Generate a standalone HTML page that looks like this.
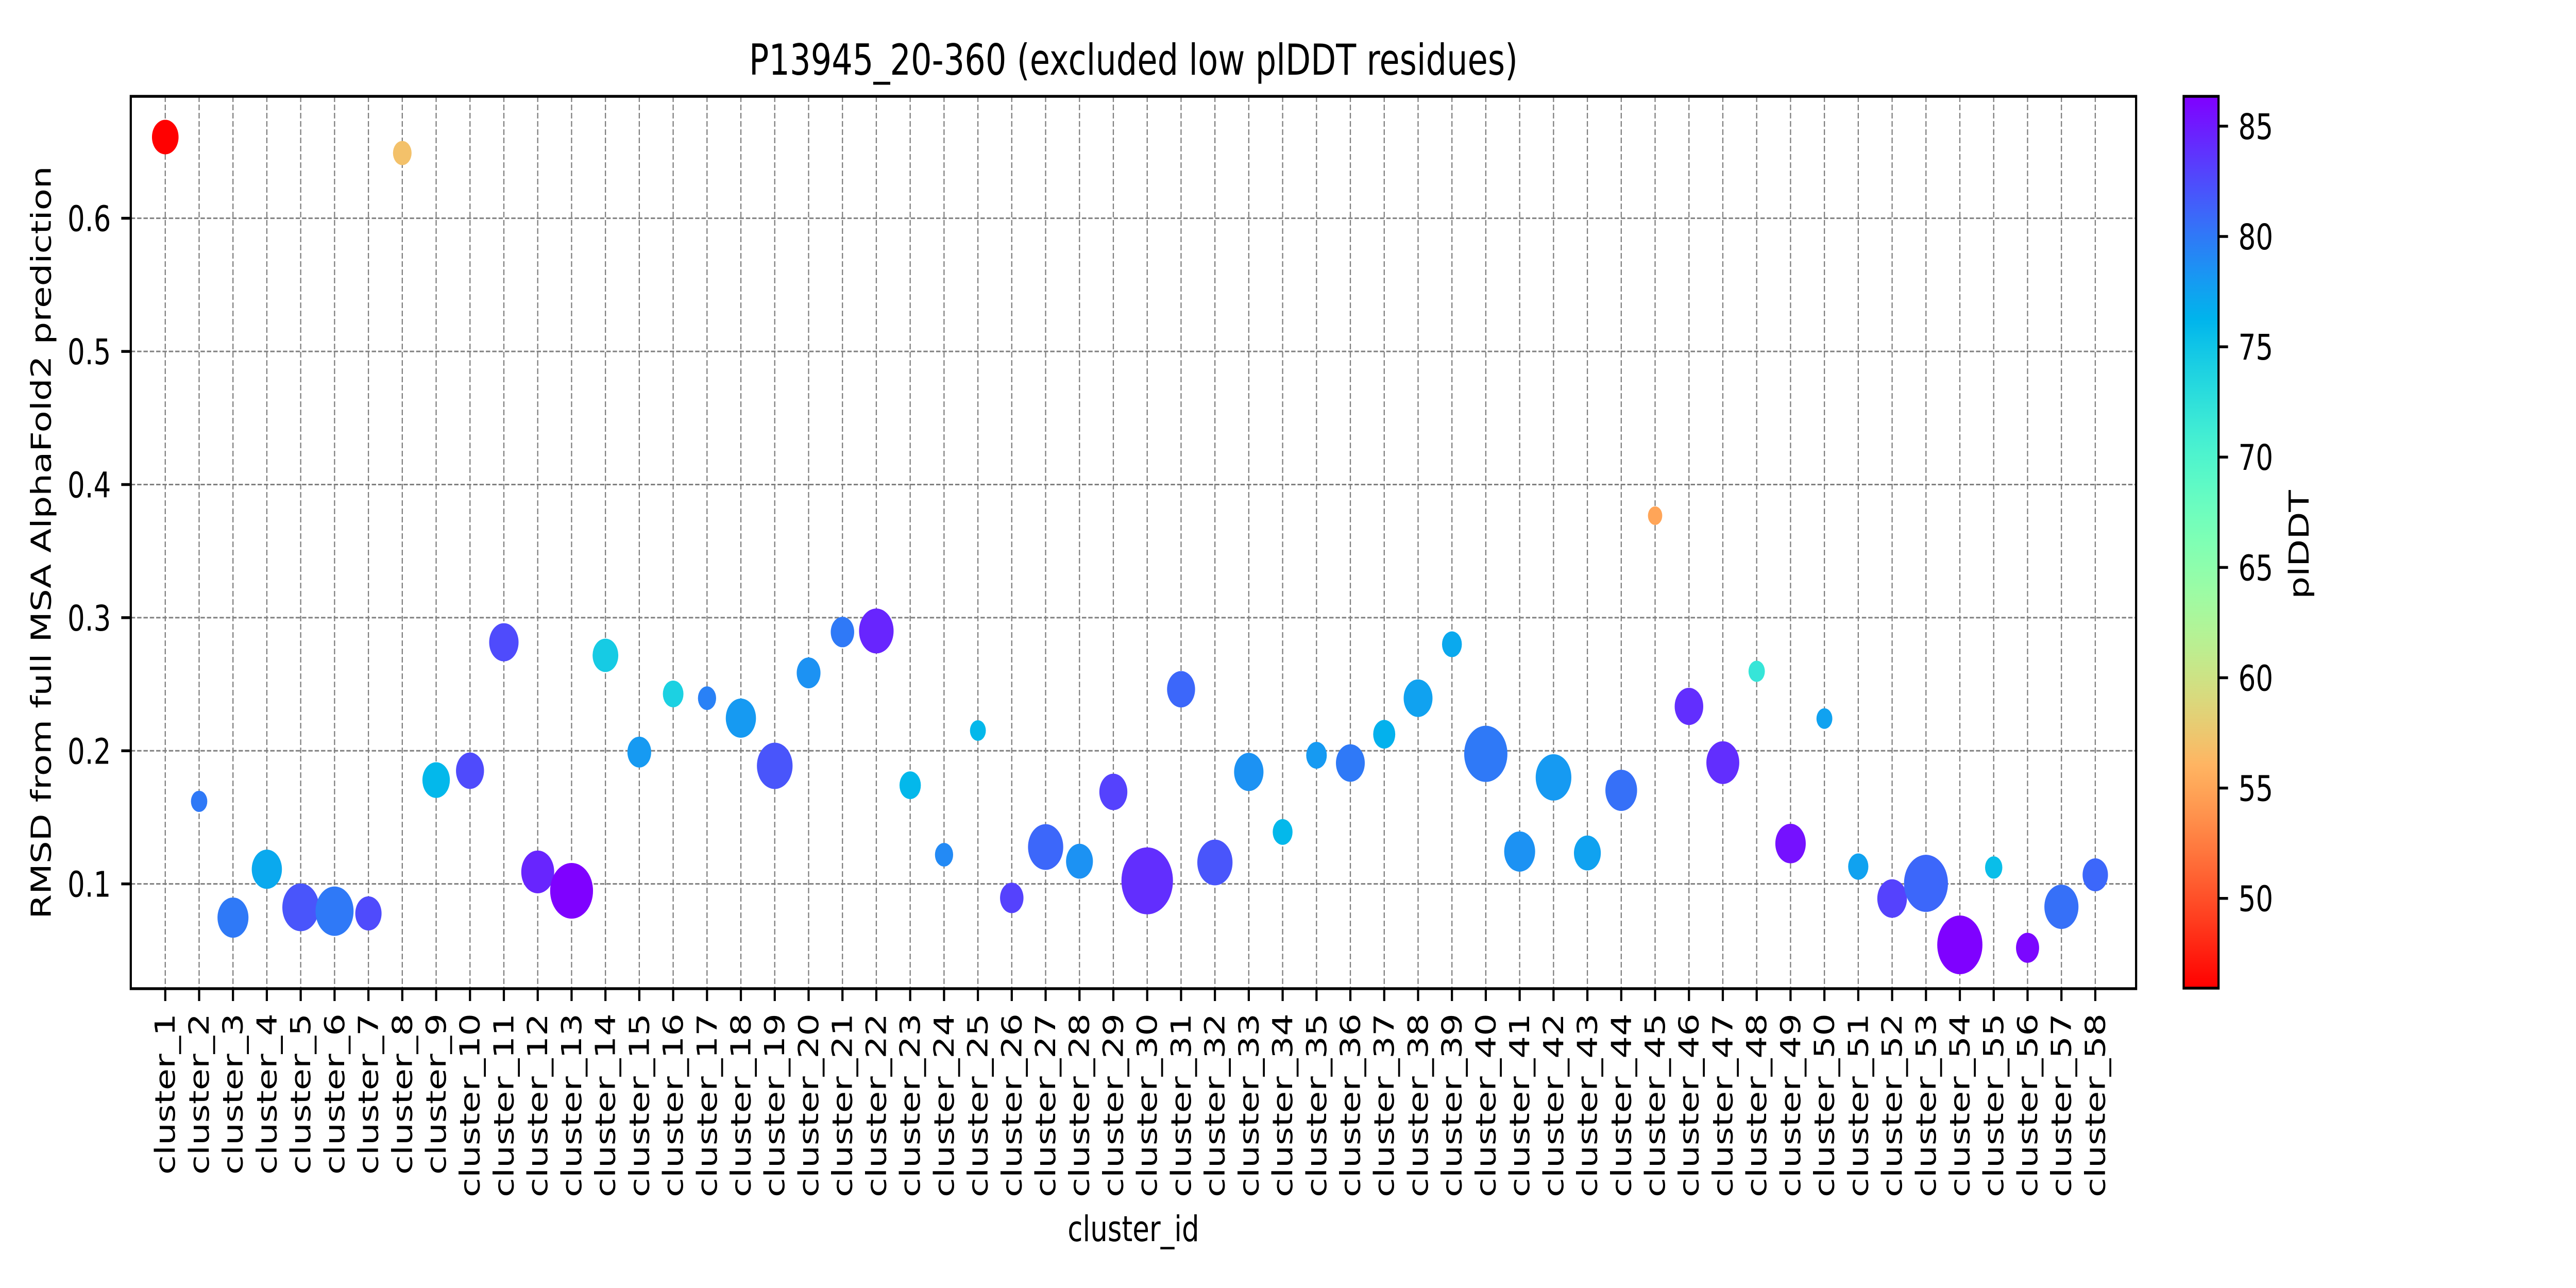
<!DOCTYPE html>
<html><head><meta charset="utf-8">
<style>
html,body{margin:0;padding:0;background:#fff;width:100vw;height:100vh;overflow:hidden;}
svg{display:block;position:fixed;left:0;top:0;width:100vw;height:100vh;font-family:"DejaVu Sans","Liberation Sans",sans-serif;}
</style></head><body>
<svg id="chart" xmlns="http://www.w3.org/2000/svg" viewBox="0 0 6500 2500" preserveAspectRatio="none">
<rect width="6500" height="2500" fill="#fff"/>
<text x="2860" y="145" font-size="83" text-anchor="middle">P13945_20-360 (excluded low plDDT residues)</text>
<g id="grid"></g>
<g id="points"></g>
<rect x="330" y="187" width="5060" height="1732" fill="none" stroke="#000" stroke-width="5.5"/>
<g id="axes"></g>
<text transform="translate(128,1053) rotate(-90)" font-size="69" text-anchor="middle">RMSD from full MSA AlphaFold2 prediction</text>
<text x="2860" y="2409" font-size="69" text-anchor="middle">cluster_id</text>
<defs><linearGradient id="cbgrad" x1="0" y1="1" x2="0" y2="0"></linearGradient></defs>
<rect x="5510" y="187" width="88" height="1731" fill="url(#cbgrad)" stroke="#000" stroke-width="5.5"/>
<g id="cbaxis"></g>
<text transform="translate(5825,1057) rotate(-90)" font-size="69" text-anchor="middle">plDDT</text>
</svg>
<script>
const categories = Array.from({length:58},(_, i)=>'cluster_'+(i+1));
const rmsd = [0.661,0.162,0.0747,0.111,0.0824,0.0795,0.0778,0.649,0.178,0.185,
0.2815,0.109,0.0948,0.2717,0.199,0.2427,0.2395,0.2245,0.1887,0.2585,
0.2892,0.290,0.1741,0.1219,0.2152,0.0895,0.1277,0.117,0.1691,0.1023,
0.2462,0.1161,0.1841,0.139,0.1966,0.1908,0.2124,0.2395,0.280,0.1977,
0.1243,0.180,0.1232,0.1703,0.3766,0.2333,0.1911,0.2597,0.1303,0.2242,
0.113,0.089,0.1004,0.0542,0.1123,0.052,0.0828,0.1068];
const plddt = [46,80,80,77,82,80,82.5,57,76,82.5,
82.5,84.5,86.3,74.5,78,74,79.5,78,82,78.5,
80,84.5,76,79,76,83,81,78.5,83,84,
81,82,78.5,76,78,80,76.5,77.5,77,80,
78.5,78,77.5,80.5,55,84,84,72,85.5,77.5,
77.5,83,81,86.3,75.5,86,80.5,81];
const sizes = [45,17,61,58,86,92,44,22,48,50,
55,69,117,42,36,27,21,58,81,36,
35,76,29,21,16,35,79,46,50,169,
50,79,55,25,27,53,31,53,25,119,
61,81,46,64,13,52,69,17,59,16,
26,56,123,130,19,34,74,41];
const yTicks = [0.1,0.2,0.3,0.4,0.5,0.6];
const yTickLabels = ['0.1','0.2','0.3','0.4','0.5','0.6'];
const cbTicks = [50,55,60,65,70,75,80,85];
const cbTickLabels = ['50','55','60','65','70','75','80','85'];

const NS='http://www.w3.org/2000/svg';
const L=330,R=5390,T=187,B=1919;
const yMin=0.0213,yMax=0.6916, cMin=45.93,cMax=86.35;
const xS=i=>417+i*(5287-417)/57;
const yS=v=>B-(v-yMin)/(yMax-yMin)*(B-T);
const cbS=v=>1918-(v-cMin)/(cMax-cMin)*(1918-187);
function rainbow(x){
  const r=Math.min(1,Math.abs(2*x-0.5)), g=Math.sin(Math.PI*x), b=Math.cos(Math.PI*x/2);
  return 'rgb('+[r,g,b].map(c=>Math.round(Math.max(0,Math.min(1,c))*255)).join(',')+')';
}
const col=v=>rainbow(1-Math.max(0,Math.min(1,(v-cMin)/(cMax-cMin))));
function mk(tag,attrs,parent){const e=document.createElementNS(NS,tag);for(const k in attrs)e.setAttribute(k,attrs[k]);parent.appendChild(e);return e;}
const grid=document.getElementById('grid'),pts=document.getElementById('points'),axes=document.getElementById('axes'),cba=document.getElementById('cbaxis');
categories.forEach((c,i)=>{
  const x=xS(i);
  const gl=mk('line',{x1:x,x2:x,y1:T,y2:B,stroke:'#808080','stroke-width':3,'stroke-dasharray':'11 5'},grid);
  
  
  const tk=mk('line',{x1:x,x2:x,y1:B,y2:B+24,stroke:'#000','stroke-width':5.5},axes);
  
  
  const t=mk('text',{transform:'translate('+(x+24)+',1967) rotate(-90)','font-size':69,'text-anchor':'end'},axes);
  t.textContent=c;
  
  
});
yTicks.forEach((v,i)=>{
  const y=yS(v);
  const gl=mk('line',{x1:L,x2:R,y1:y,y2:y,stroke:'#808080','stroke-width':3,'stroke-dasharray':'11 5'},grid);
  
  
  const tk=mk('line',{x1:L-24,x2:L,y1:y,y2:y,stroke:'#000','stroke-width':5.5},axes);
  
  
  const t=mk('text',{x:280,y:y+25,'font-size':69,'text-anchor':'end'},axes);
  t.textContent=yTickLabels[i];
  
  
});
rmsd.forEach((v,i)=>{
  const c=mk('circle',{cx:xS(i),cy:yS(v),r:Math.sqrt(sizes[i])*5,fill:col(plddt[i])},pts);
  
  
});
const grad=document.getElementById('cbgrad');
for(let k=0;k<=40;k++){const f=k/40;mk('stop',{offset:f,'stop-color':col(cMin+f*(cMax-cMin))},grad);}
cbTicks.forEach((v,i)=>{
  const y=cbS(v);
  const tk=mk('line',{x1:5598,x2:5622,y1:y,y2:y,stroke:'#000','stroke-width':5.5},cba);
  
  
  const t=mk('text',{x:5648,y:y+25,'font-size':69},cba);
  t.textContent=cbTickLabels[i];
  
  
});
</script>
</body></html>
